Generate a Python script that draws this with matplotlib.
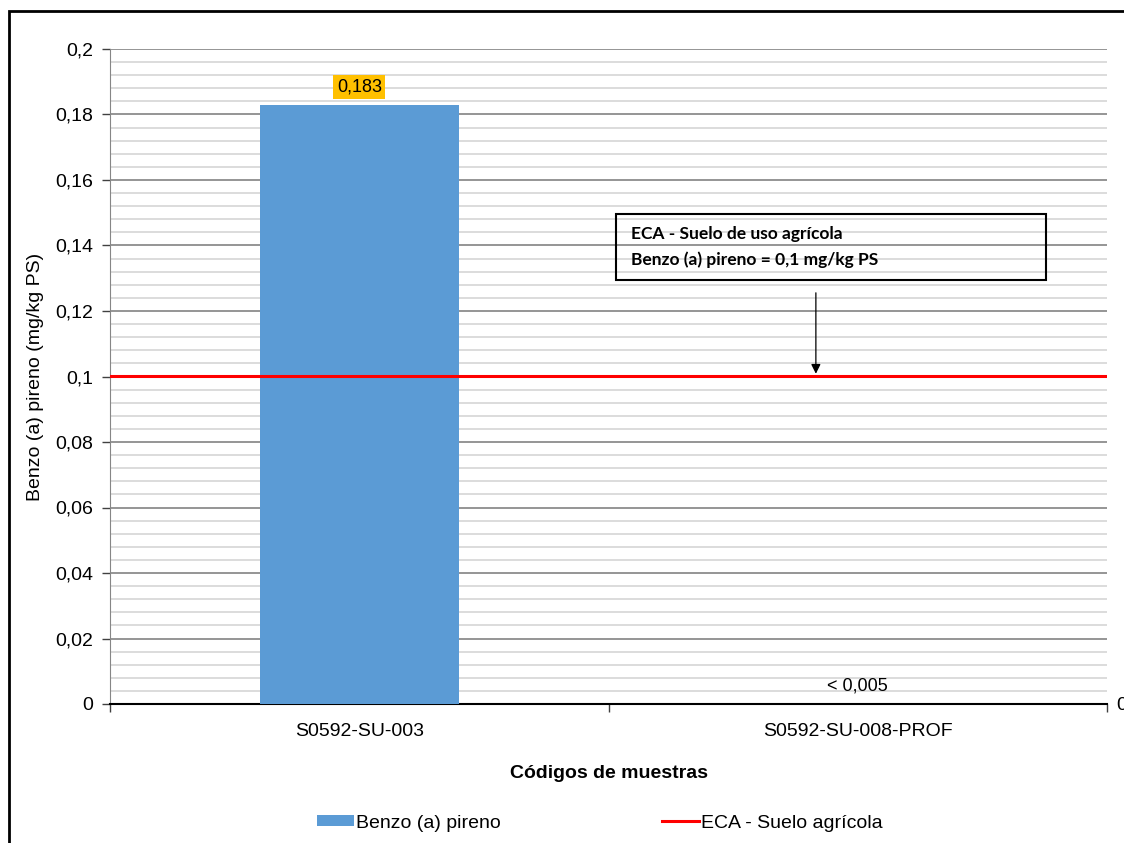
import numpy as np
import matplotlib.pyplot as plt
from matplotlib.patches import Rectangle
from matplotlib.ticker import MultipleLocator, FuncFormatter

# datos de las muestras
muestras = ['S0592-SU-003', 'S0592-SU-008-PROF']
valores = [0.183, 0.0]
etiquetas = ['0,183', '< 0,005']
eca_valor = 0.1

plt.rcParams['font.family'] = ['Liberation Sans', 'DejaVu Sans']

fig = plt.figure(figsize=(11.24, 8.43), dpi=100)
ax = fig.add_axes([110 / 1124, 1 - 704 / 843, 997 / 1124, 655 / 843])

x = np.arange(len(muestras))
barras = ax.bar(x, valores, width=0.4, color='#5b9bd5', zorder=3, label='Benzo (a) pireno')
linea = ax.axhline(eca_valor, color='#ff0000', lw=2.2, zorder=4, label='ECA - Suelo agrícola')

# etiquetas de valor sobre cada barra
ax.annotate(etiquetas[0], (x[0], valores[0]), xytext=(0, 13), textcoords='offset points',
            ha='center', va='center', fontsize=13,
            bbox=dict(boxstyle='square,pad=0.2', fc='#ffc000', ec='none'), zorder=5)
ax.annotate(etiquetas[1], (x[1], valores[1]), xytext=(0, 13), textcoords='offset points',
            ha='center', va='center', fontsize=13, zorder=5)

# cuadro con la norma y flecha hacia la línea
ax.add_patch(Rectangle((0.515, 0.1295), 0.863, 0.0201, fill=False, ec='black', lw=1.5, zorder=6))
ax.text(0.545, 0.1435, 'ECA - Suelo de uso agrícola', fontsize=12.5, fontweight='bold',
        family=['Lato', 'DejaVu Sans'], va='center', zorder=6)
ax.text(0.545, 0.1358, 'Benzo (a) pireno = 0,1 mg/kg PS', fontsize=12.5, fontweight='bold',
        family=['Lato', 'DejaVu Sans'], va='center', zorder=6)
ax.annotate('', xy=(0.916, eca_valor), xytext=(0.916, 0.1264),
            arrowprops=dict(arrowstyle='-|>', color='black', lw=0.9, mutation_scale=14), zorder=6)

# ejes y rejilla
ax.set_xlim(-0.5, 1.5)
ax.set_ylim(0, 0.2)
ax.yaxis.set_major_locator(MultipleLocator(0.02))
ax.yaxis.set_minor_locator(MultipleLocator(0.004))
ax.yaxis.set_major_formatter(FuncFormatter(lambda v, p: ('%g' % round(v, 3)).replace('.', ',')))
ax.grid(axis='y', which='major', color='#8c8c8c', lw=1.3, zorder=1)
ax.grid(axis='y', which='minor', color='#d9d9d9', lw=1.3, zorder=1)
ax.tick_params(axis='y', which='minor', length=0)
ax.tick_params(axis='y', which='major', length=6, width=1, color='#404040', labelsize=14, pad=6)

ax.set_xticks([-0.5, 0.5, 1.5])
ax.set_xticklabels([])
ax.set_xticks(x, minor=True)
ax.set_xticklabels(muestras, minor=True, fontsize=14)
ax.tick_params(axis='x', which='major', length=6, width=1, color='#404040')
ax.tick_params(axis='x', which='minor', length=0, pad=14)

for s in ['top', 'right']:
    ax.spines[s].set_visible(False)
ax.spines['left'].set_color('#868686')
ax.spines['bottom'].set_color('black')
ax.spines['bottom'].set_linewidth(1.5)

ax.set_ylabel('Benzo (a) pireno (mg/kg PS)', fontsize=14, labelpad=8)
ax.set_xlabel('Códigos de muestras', fontsize=14, fontweight='bold', labelpad=18)

# eje secundario cortado en el borde derecho
fig.text(1116 / 1124, 1 - 706 / 843, '0', fontsize=14, va='center', ha='left')

fig.legend([barras, linea], ['Benzo (a) pireno', 'ECA - Suelo agrícola'],
           loc='center', bbox_to_anchor=(600 / 1124, 1 - 823 / 843), ncol=2, frameon=False,
           fontsize=14, handlelength=1.9, handleheight=0.55, handletextpad=0.1, columnspacing=8.3)

# marco exterior
fig.add_artist(Rectangle((9 / 1124, -0.05), 1.1, 1 - 11 / 843 + 0.05, transform=fig.transFigure,
                         fill=False, ec='black', lw=2))

fig.savefig('out.png', dpi=100)
